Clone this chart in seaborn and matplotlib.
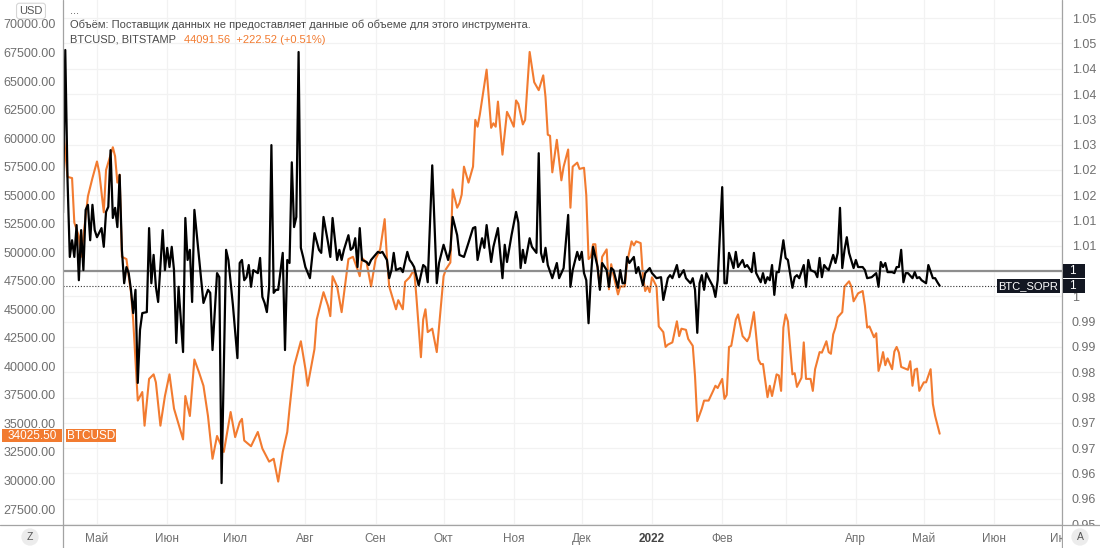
import matplotlib
matplotlib.use("Agg")
import numpy as np
import pandas as pd
import matplotlib.pyplot as plt
import seaborn as sns
from matplotlib.patches import Rectangle
from matplotlib.lines import Line2D

# ---------------- data ----------------
START = "2021-04-16"

btc_day = [0, 2, 4, 5, 7, 8, 11, 13, 15, 16,
           18, 19, 22, 23, 24, 25, 26, 28, 29, 30,
           31, 33, 35, 36, 38, 40, 41, 43, 45, 47,
           49, 53, 54, 56, 58, 60, 62, 64, 66, 68,
           71, 74, 76, 78, 79, 80, 83, 86, 88, 91,
           93, 95, 97, 99, 100, 102, 105, 107, 108, 111,
           112, 115, 117, 118, 119, 121, 123, 126, 128, 130,
           131, 132, 134, 136, 138, 140, 142, 143, 144, 147,
           148, 150, 151, 153, 155, 156, 158, 159, 160, 161,
           163, 165, 166, 168, 169, 171, 172, 174, 175, 176,
           177, 179, 181, 182, 183, 184, 187, 189, 190, 191,
           192, 194, 196, 197, 199, 200, 201, 203, 204, 206,
           208, 210, 212, 213, 214, 215, 216, 218, 220, 221,
           223, 224, 225, 227, 228, 230, 231, 232, 233, 234,
           235, 236, 237, 238, 240, 241, 242, 243, 245, 246,
           248, 249, 251, 252, 253, 255, 256, 257, 258, 259,
           260, 262, 263, 265, 266, 267, 269, 271, 272, 273,
           275, 276, 278, 279, 280, 282, 283, 285, 287, 288,
           289, 291, 292, 293, 294, 295, 297, 298, 300, 302,
           303, 305, 307, 308, 309, 311, 312, 313, 315, 316,
           317, 318, 319, 320, 322, 323, 324, 326, 327, 328,
           330, 331, 332, 334, 335, 337, 338, 339, 340, 341,
           342, 344, 345, 347, 348, 349, 351, 353, 354, 355,
           356, 358, 359, 360, 361, 362, 363, 364, 366, 367,
           368, 369, 370, 373, 374, 375, 376, 377, 378, 380,
           381, 383, 384, 385, 387]

btc_price = [61000, 56600, 56500, 52600, 51400, 49600, 54900, 56500, 57950, 57000,
             53500, 57200, 59200, 58400, 56100, 56800, 49600, 49400, 47900, 46500,
             44000, 37000, 37750, 34800, 38900, 39300, 38600, 34800, 37400, 39300,
             36300, 33600, 37400, 35650, 40600, 39500, 38300, 35650, 31900, 33900,
             32500, 36000, 33800, 35100, 35400, 33500, 33000, 34250, 32800, 31650,
             31900, 29900, 32500, 34250, 36300, 40000, 42200, 39800, 38300, 41500,
             44100, 46500, 45300, 44400, 47900, 47000, 44750, 49400, 49600, 48500,
             47900, 49500, 49100, 47000, 49400, 50250, 52900, 49500, 47000, 45000,
             45800, 45000, 47400, 47800, 48500, 46100, 40800, 44100, 45000, 43000,
             43300, 41250, 43500, 47900, 48500, 49100, 55500, 53900, 54300, 55050,
             57500, 56100, 57500, 61600, 61000, 62050, 66000, 60900, 61300, 61000,
             63200, 58550, 62300, 61900, 61000, 63300, 63000, 61200, 61600, 67550,
             64900, 64200, 65500, 63600, 60300, 60200, 57000, 59850, 56300, 57500,
             59000, 53900, 57500, 57850, 57300, 57400, 55000, 49400, 49600, 50700,
             50700, 48500, 47000, 49600, 50250, 46750, 48950, 48000, 46300, 47000,
             47000, 49100, 50950, 50600, 50950, 50800, 47900, 46600, 47000, 46500,
             47800, 47000, 43500, 43000, 41700, 41900, 42100, 43950, 42650, 43300,
             43200, 42400, 41800, 39150, 35200, 36300, 37000, 37000, 37850, 38300,
             38100, 38900, 37150, 37500, 41700, 41800, 44100, 44550, 42650, 42200,
             42600, 44750, 40600, 40200, 40200, 37300, 38300, 37400, 39300, 39200,
             37850, 43400, 44550, 43950, 39300, 39400, 38200, 39000, 42100, 38900,
             38900, 37850, 39750, 41250, 41200, 42200, 41250, 41100, 42800, 43400,
             44300, 44750, 47000, 47450, 47000, 45700, 46400, 46600, 45300, 43400,
             43500, 42550, 42900, 39600, 40300, 41250, 40100, 40700, 39750, 41300,
             41700, 41200, 39950, 39700, 40450, 38300, 39700, 39800, 37850, 38600,
             38600, 39750, 36700, 35650, 34100]

sopr_day = [0, 1, 2, 3, 4, 5, 6, 7, 8, 9,
            10, 11, 12, 13, 14, 15, 17, 18, 19, 20,
            21, 22, 23, 24, 25, 26, 27, 28, 29, 30,
            31, 32, 33, 34, 35, 37, 38, 39, 40, 41,
            42, 44, 45, 46, 47, 48, 49, 50, 51, 53,
            54, 55, 56, 57, 58, 60, 62, 64, 65, 66,
            68, 69, 70, 72, 73, 75, 77, 78, 79, 80,
            81, 82, 83, 84, 86, 87, 88, 89, 90, 91,
            92, 93, 94, 95, 97, 98, 99, 100, 101, 102,
            103, 104, 105, 106, 107, 109, 110, 111, 113, 114,
            115, 117, 118, 119, 121, 122, 123, 124, 126, 127,
            128, 129, 130, 131, 132, 134, 135, 136, 139, 140,
            141, 143, 144, 145, 146, 147, 149, 150, 152, 153,
            154, 155, 157, 159, 160, 161, 163, 165, 166, 168,
            170, 171, 172, 174, 175, 177, 179, 181, 182, 183,
            185, 186, 187, 189, 190, 192, 194, 195, 196, 198,
            200, 201, 202, 203, 204, 206, 207, 209, 210, 211,
            212, 213, 214, 216, 218, 219, 221, 223, 224, 225,
            227, 228, 229, 230, 231, 232, 233, 234, 236, 237,
            238, 240, 241, 242, 243, 245, 246, 247, 248, 249,
            250, 252, 253, 254, 256, 257, 259, 260, 262, 264,
            265, 267, 268, 269, 271, 272, 274, 275, 277, 278,
            279, 280, 281, 282, 283, 284, 285, 287, 288, 289,
            291, 292, 293, 294, 295, 296, 297, 298, 300, 301,
            302, 304, 305, 306, 308, 309, 310, 311, 312, 313,
            314, 315, 316, 318, 319, 320, 322, 323, 324, 325,
            327, 328, 329, 330, 332, 333, 334, 335, 336, 337,
            338, 340, 341, 342, 343, 344, 345, 346, 347, 349,
            350, 351, 353, 354, 355, 357, 359, 360, 361, 362,
            363, 364, 366, 367, 368, 369, 370, 371, 372, 373,
            375, 376, 377, 378, 379, 381, 382, 384, 385, 386,
            387]

sopr_value = [1.0165, 1.0487, 1.0230, 1.0078, 1.0111, 1.0078, 1.0141, 1.0032, 1.0131, 1.0052,
              1.0171, 1.0181, 1.0111, 1.0181, 1.0131, 1.0117, 1.0135, 1.0098, 1.0167, 1.0177,
              1.0289, 1.0155, 1.0175, 1.0137, 1.0240, 1.0092, 1.0026, 1.0058, 1.0046, 1.0013,
              0.9967, 1.0013, 0.9829, 0.9934, 0.9967, 0.9969, 1.0135, 1.0026, 1.0082, 1.0019,
              0.9989, 1.0131, 1.0052, 1.0096, 1.0058, 1.0098, 1.0052, 0.9908, 1.0019, 0.9890,
              1.0155, 1.0072, 1.0092, 0.9989, 1.0171, 1.0078, 0.9987, 1.0013, 1.0007, 0.9894,
              1.0046, 1.0038, 0.9631, 1.0092, 1.0072, 0.9983, 0.9878, 1.0066, 1.0072, 1.0032,
              1.0038, 1.0062, 1.0019, 1.0052, 1.0046, 1.0076, 0.9999, 0.9987, 0.9969, 1.0019,
              1.0299, 1.0007, 1.0013, 1.0013, 1.0086, 0.9894, 1.0072, 1.0066, 1.0265, 1.0137,
              1.0157, 1.0483, 1.0096, 1.0078, 1.0058, 1.0036, 1.0078, 1.0125, 1.0092, 1.0086,
              1.0157, 1.0106, 1.0078, 1.0155, 1.0072, 1.0092, 1.0072, 1.0092, 1.0121, 1.0092,
              1.0096, 1.0115, 1.0058, 1.0135, 1.0072, 1.0068, 1.0062, 1.0072, 1.0088, 1.0086,
              1.0088, 1.0072, 1.0036, 1.0052, 1.0086, 1.0052, 1.0056, 1.0048, 1.0088, 1.0072,
              1.0066, 1.0058, 1.0022, 1.0062, 1.0058, 1.0028, 1.0259, 1.0026, 1.0066, 1.0102,
              1.0072, 1.0092, 1.0157, 1.0121, 1.0082, 1.0078, 1.0106, 1.0135, 1.0137, 1.0072,
              1.0115, 1.0096, 1.0141, 1.0068, 1.0098, 1.0135, 1.0036, 1.0102, 1.0068, 1.0121,
              1.0167, 1.0146, 1.0056, 1.0092, 1.0066, 1.0115, 1.0098, 1.0086, 1.0283, 1.0086,
              1.0068, 1.0096, 1.0062, 1.0036, 1.0066, 1.0036, 1.0056, 1.0161, 1.0019, 1.0052,
              1.0088, 1.0072, 1.0088, 1.0046, 1.0032, 0.9947, 1.0036, 1.0098, 1.0058, 1.0013,
              1.0066, 1.0052, 1.0019, 1.0056, 1.0052, 1.0017, 1.0052, 1.0026, 1.0026, 1.0078,
              1.0066, 1.0078, 1.0046, 1.0058, 1.0022, 1.0046, 1.0056, 1.0046, 1.0036, 1.0038,
              0.9993, 1.0036, 1.0042, 1.0036, 1.0062, 1.0038, 1.0052, 1.0036, 1.0026, 1.0036,
              1.0013, 0.9928, 1.0026, 1.0042, 1.0013, 1.0046, 1.0036, 1.0019, 0.9999, 1.0032,
              1.0216, 1.0026, 1.0026, 1.0086, 1.0072, 1.0056, 1.0088, 1.0058, 1.0072, 1.0058,
              1.0062, 1.0048, 1.0086, 1.0046, 1.0028, 1.0046, 1.0026, 1.0038, 1.0032, 1.0062,
              1.0003, 1.0048, 1.0048, 1.0111, 1.0076, 1.0072, 1.0017, 1.0038, 1.0042, 1.0036,
              1.0062, 1.0019, 1.0072, 1.0052, 1.0048, 1.0038, 1.0076, 1.0038, 1.0062, 1.0056,
              1.0052, 1.0082, 1.0066, 1.0086, 1.0175, 1.0056, 1.0092, 1.0117, 1.0086, 1.0056,
              1.0072, 1.0058, 1.0058, 1.0052, 1.0036, 1.0038, 1.0046, 1.0019, 1.0068, 1.0058,
              1.0066, 1.0048, 1.0048, 1.0046, 1.0058, 1.0058, 1.0092, 1.0028, 1.0046, 1.0046,
              1.0036, 1.0048, 1.0036, 1.0038, 1.0032, 1.0026, 1.0062, 1.0036, 1.0036, 1.0028,
              1.0021]

sopr_level = 1.005
btc_last_label = "34025.50"

month_starts = ["2021-05-01", "2021-06-01", "2021-07-01", "2021-08-01", "2021-09-01",
                "2021-10-01", "2021-11-01", "2021-12-01", "2022-01-01", "2022-02-01",
                "2022-03-01", "2022-04-01", "2022-05-01", "2022-06-01", "2022-07-01"]
x_label_dates = ["2021-05-01", "2021-06-01", "2021-07-01", "2021-08-01", "2021-09-01",
                 "2021-10-01", "2021-11-01", "2021-12-01", "2022-01-01", "2022-02-01",
                 "2022-04-01", "2022-05-01", "2022-06-01", "2022-07-01"]
x_labels = ["Май", "Июн", "Июл", "Авг", "Сен", "Окт", "Ноя", "Дек", "2022", "Фев",
            "Апр", "Май", "Июн", "Июл"]

usd_ticks = [27500, 30000, 32500, 35000, 37500, 40000, 42500, 45000, 47500, 50000,
             52500, 55000, 57500, 60000, 62500, 65000, 67500, 70000]
sopr_ticks = [0.955, 0.96, 0.965, 0.97, 0.975, 0.98, 0.985, 0.99, 0.995, 1.0,
              1.005, 1.01, 1.015, 1.02, 1.025, 1.03, 1.035, 1.04, 1.045, 1.05, 1.055]
sopr_tick_labels = ["0.95", "0.96", "0.96", "0.97", "0.97", "0.98", "0.98", "0.99", "0.99", "1",
                    "", "1.01", "1.01", "1.02", "1.02", "1.03", "1.03", "1.04", "1.04", "1.05", "1.05"]

header_title = "Объём: Поставщик данных не предоставляет данные об объеме для этого инструмента."
header_symbol = "BTCUSD, BITSTAMP"
header_quote = "44091.56  +222.52 (+0.51%)"

# ---------------- style ----------------
sns.set_style("white")
plt.rcParams['font.family'] = ['Liberation Sans', 'DejaVu Sans']

W, H = 1100, 548
ORANGE = "#F27B30"
LABEL_GRAY = "#6f6f6f"
GRID = "#f2f2f2"
FRAME = "#a3a3a3"

start = pd.Timestamp(START)
btc = pd.DataFrame({"date": start + pd.to_timedelta(btc_day, unit="D"), "price": btc_price})
sopr = pd.DataFrame({"date": start + pd.to_timedelta(sopr_day, unit="D"), "sopr": sopr_value})

fig = plt.figure(figsize=(W / 100, H / 100), dpi=100)
fig.patch.set_facecolor("white")
ax = fig.add_axes([63 / W, 23 / H, 999 / W, 525 / H])
ax.set_facecolor("white")

x0 = start
x1 = start + pd.Timedelta(days=441)
usd_lim = (26098, 72102)
sopr_lim = (0.95482, 1.05858)

# grid (vertical months)
for m in month_starts:
    ax.axvline(pd.Timestamp(m), color=GRID, lw=0.9, zorder=0)
# grid (horizontal at right-axis ticks, drawn on left axes so the lines stay on top)
for t in sopr_ticks:
    frac = (t - sopr_lim[0]) / (sopr_lim[1] - sopr_lim[0])
    ax.axhline(usd_lim[0] + frac * (usd_lim[1] - usd_lim[0]), color=GRID, lw=0.9, zorder=0)

sns.lineplot(data=btc, x="date", y="price", ax=ax, color=ORANGE, lw=1.5, zorder=3)

ax2 = ax.twinx()
ax2.axhline(sopr_level, color="#8e8e8e", lw=1.6, zorder=1)
ax2.axhline(sopr_value[-1], xmin=0, xmax=(997 - 63) / 999, color="#333333", lw=0.8,
            ls=(0, (1, 1.6)), zorder=1)
sns.lineplot(data=sopr, x="date", y="sopr", ax=ax2, color="black", lw=1.6, zorder=3)

ax.set_xlim(x0, x1)
ax2.set_xlim(x0, x1)
ax.set_ylim(*usd_lim)
ax2.set_ylim(*sopr_lim)

ax.set_yticks(usd_ticks)
ax.set_yticklabels([f"{v:.2f}" for v in usd_ticks])
ax2.set_yticks(sopr_ticks)
ax2.set_yticklabels(sopr_tick_labels)
ax.set_xticks([pd.Timestamp(d) for d in x_label_dates])
ax.set_xticklabels(x_labels)

ax.tick_params(axis="y", length=0, pad=5, labelsize=9, labelcolor=LABEL_GRAY)
ax2.tick_params(axis="y", length=0, pad=7, labelsize=9, labelcolor=LABEL_GRAY)
ax.tick_params(axis="x", length=0, pad=6, labelsize=8.5, labelcolor=LABEL_GRAY)
for lbl in ax.get_xticklabels():
    if lbl.get_text() == "2022":
        lbl.set_fontweight("bold")
        lbl.set_color("#444444")

for a in (ax, ax2):
    a.set_xlabel("")
    a.set_ylabel("")
    for s in a.spines.values():
        s.set_visible(False)
    if a.get_legend() is not None:
        a.get_legend().remove()

# frame lines across the whole canvas
fig.add_artist(Line2D([63 / W, 63 / W], [0, 1], transform=fig.transFigure, color=FRAME, lw=0.9, zorder=4))
fig.add_artist(Line2D([1062 / W, 1062 / W], [0, 1], transform=fig.transFigure, color=FRAME, lw=0.9, zorder=4))
# cover spill of labels into the bottom-right corner
fig.add_artist(Rectangle((1062.6 / W, 0), 40 / W, 22.6 / H, transform=fig.transFigure,
                         fc="white", ec="none", zorder=5))
fig.add_artist(Line2D([0, 1], [23 / H, 23 / H], transform=fig.transFigure, color=FRAME, lw=0.9, zorder=6))


def box(xa, xb, yc, text, fc, tx, ha="center", fs=8.5, h=14):
    fig.add_artist(Rectangle((xa / W, (yc - h / 2) / H), (xb - xa) / W, h / H,
                             transform=fig.transFigure, fc=fc, ec="none", zorder=10))
    fig.text(tx / W, yc / H, text, ha=ha, va="center", color="white", fontsize=fs, zorder=11)


fig.canvas.draw()
y_level = ax2.transData.transform((0, sopr_level))[1]
y_last = ax2.transData.transform((0, sopr_value[-1]))[1]
y_btc = ax.transData.transform((0, float(btc_last_label)))[1] - 1

box(1063, 1085, y_level, "1", "#131722", 1069, ha="left")
box(1063, 1085, y_last, "1", "#131722", 1069, ha="left")
box(997, 1060, y_last, "BTC_SOPR", "#131722", 1028.5, fs=8)
box(2, 62, y_btc, btc_last_label, ORANGE, 32, fs=8.5, h=13)
box(66, 116, y_btc, "BTCUSD", ORANGE, 91, fs=8.5, h=13)

# header
fig.text(31 / W, 1 - 11 / H, "USD", ha="center", va="center", fontsize=8, color="#555555",
         bbox=dict(boxstyle="round,pad=0.25", fc="white", ec="#d6d6d6", lw=0.8), zorder=12)
fig.text(70 / W, 1 - 11 / H, "...", ha="left", va="center", fontsize=8, color="#555555")
fig.text(70 / W, 1 - 25 / H, header_title, ha="left", va="center", fontsize=8, color="#4a4a4a")
sym = fig.text(70 / W, 1 - 40 / H, header_symbol, ha="left", va="center", fontsize=8, color="#4a4a4a")
fig.canvas.draw()
sym_right = sym.get_window_extent().x1
fig.text((sym_right + 8) / W, 1 - 40 / H, header_quote, ha="left", va="center",
         fontsize=8, color=ORANGE)

# corner buttons
fig.text(30 / W, 11 / H, "Z", ha="center", va="center", fontsize=7.5, color="#555555",
         bbox=dict(boxstyle="circle,pad=0.35", fc="#ececec", ec="none"), zorder=12)
fig.text(1080 / W, 11 / H, "A", ha="center", va="center", fontsize=7.5, color="#555555",
         bbox=dict(boxstyle="circle,pad=0.35", fc="#ececec", ec="none"), zorder=12)

fig.savefig("out.png", dpi=100)
